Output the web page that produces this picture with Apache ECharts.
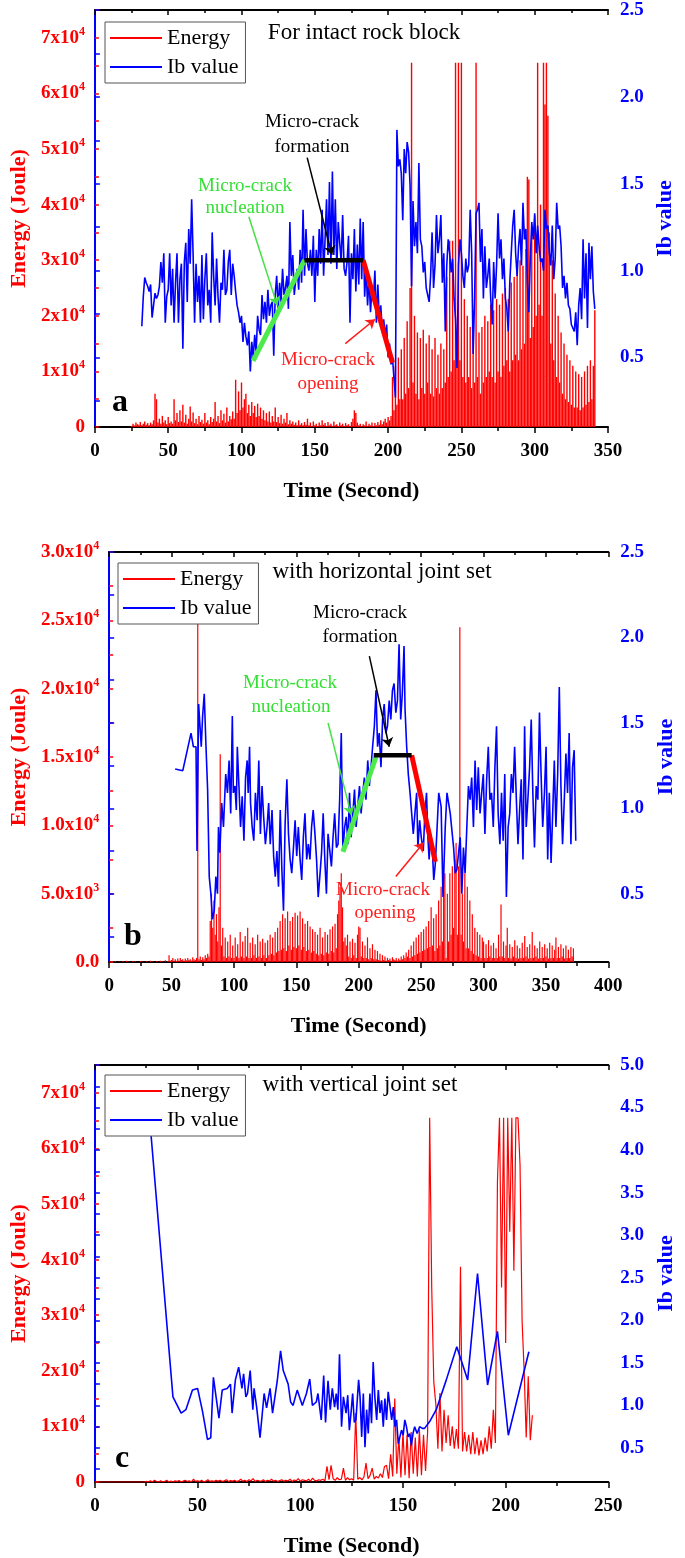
<!DOCTYPE html>
<html><head><meta charset="utf-8">
<script src="https://cdn.jsdelivr.net/npm/echarts@6/dist/echarts.min.js"></script>
<style>html,body{margin:0;padding:0;background:#fff}#c{width:685px;height:1558px}</style>
</head><body><div id="c"></div>
<script>
// ---------------- DATA ----------------
const timeTicksA = [0,50,100,150,200,250,300,350];
const timeTicksB = [0,50,100,150,200,250,300,350,400];
const timeTicksC = [0,50,100,150,200,250];
const energyLabelsAC = [0,10000,20000,30000,40000,50000,60000,70000];
const energyTicksAC = [0,5000,10000,15000,20000,25000,30000,35000,40000,45000,50000,55000,60000,65000,70000,75000];
const energyLabelsB = [0,5000,10000,15000,20000,25000,30000];
const energyTicksB = [0,2500,5000,7500,10000,12500,15000,17500,20000,22500,25000,27500,30000];
const ibLabelsAB = [0.5,1.0,1.5,2.0,2.5];
const ibTicksAB = [0.25,0.5,0.75,1.0,1.25,1.5,1.75,2.0,2.25,2.5];
const ibLabelsC = [0.5,1.0,1.5,2.0,2.5,3.0,3.5,4.0,4.5,5.0];
const ibTicksC = [0.25,0.5,0.75,1.0,1.25,1.5,1.75,2.0,2.25,2.5,2.75,3.0,3.25,3.5,3.75,4.0,4.25,4.5,4.75,5.0];

// Panel a: Ib value, one reading per second from t = 32 s
const ibA_t0 = 32;
const ibA = [
0.68,0.85,0.96,0.93,0.91,0.88,0.92,0.73,0.80,0.87,
0.84,0.86,0.91,1.05,0.93,1.10,0.70,0.85,0.89,1.10,
0.80,1.01,0.70,0.93,1.10,0.70,0.95,1.04,0.55,1.05,
1.16,0.82,1.24,1.04,1.41,1.09,0.70,1.04,0.82,0.97,
0.70,1.09,0.72,0.95,1.10,0.80,0.89,0.70,1.22,0.97,
0.80,1.07,0.85,0.70,0.93,0.89,1.12,0.86,0.89,1.05,
1.12,0.86,1.04,0.97,0.88,0.80,0.76,0.70,0.74,0.59,
0.70,0.62,0.57,0.65,0.42,0.59,0.50,0.63,0.53,0.74,
0.66,0.63,0.86,0.72,0.82,0.70,0.89,0.74,0.80,0.82,
0.51,0.86,0.97,0.78,0.93,0.82,1.01,0.86,0.90,0.97,
0.78,1.28,0.97,1.09,0.86,0.95,1.01,0.89,1.12,0.93,
1.35,0.97,1.24,1.04,1.00,1.12,0.97,1.20,0.82,1.12,
0.97,1.24,1.04,1.35,0.97,1.18,1.41,1.09,1.51,1.04,
1.57,1.09,1.41,1.01,1.28,1.16,1.05,1.32,1.01,0.97,
1.05,1.20,0.70,1.10,0.95,1.24,0.88,1.15,0.92,1.30,
0.95,1.28,0.85,1.02,0.80,0.96,0.76,0.90,0.84,1.00,
0.70,0.92,0.72,0.80,0.66,0.72,0.62,0.69,0.50,0.58,
0.46,0.50,0.38,0.27,1.81,1.60,1.64,1.56,1.29,1.70,
1.56,1.74,1.68,1.49,0.91,1.40,1.14,1.28,1.10,1.62,
1.18,1.14,0.99,1.05,0.90,0.90,0.82,0.97,1.22,0.90,
1.03,1.32,1.10,1.18,1.32,0.93,1.10,0.65,1.03,1.18,
1.10,0.99,1.07,0.84,0.72,0.44,1.03,1.18,1.10,0.97,
0.90,1.07,0.99,1.03,1.35,1.10,0.52,0.84,1.33,1.35,
1.39,1.05,1.24,0.84,1.14,0.90,0.97,1.07,0.84,0.69,
1.05,0.84,1.03,1.33,1.07,1.18,0.95,1.07,0.84,0.78,
0.65,0.93,1.10,1.26,1.35,1.10,0.97,1.14,1.24,1.03,
1.39,1.18,1.24,0.93,0.76,1.07,1.28,1.18,1.33,1.10,
1.26,1.14,1.05,1.07,1.00,1.35,1.24,1.26,1.10,1.03,
1.26,0.95,1.07,1.39,1.24,1.26,1.14,0.90,0.97,0.84,
0.93,0.80,0.78,0.69,0.67,0.65,0.76,0.57,0.80,0.90,
0.72,1.18,0.84,1.10,0.67,1.16,0.95,1.14,0.88,0.78];

// Panel a: energy (J), one reading per second from t = 25 s
const energyA_t0 = 25;
const energyA = [
200,600,300,800,500,400,900,300,600,1000,
400,700,300,800,500,1200,6000,5000,800,1500,
600,2000,800,1200,500,1800,700,1000,600,5000,
1200,2500,900,3000,1000,4000,800,2200,600,1500,
3700,1000,2600,700,1500,500,2000,900,1300,600,
2500,800,1200,500,1800,900,1500,4500,1000,2000,
700,3000,1200,2400,800,3500,1000,2000,1400,2800,
1500,8500,2500,6400,3000,8000,3500,5000,6000,2500,
4000,2000,4500,2500,3800,1800,4200,2000,3500,1500,
3000,1200,2500,1000,2800,800,2000,1000,3500,900,
1800,700,2200,600,1500,800,2500,500,1200,600,
1000,400,800,300,1200,400,700,300,900,400,
1500,300,800,200,1000,300,600,200,800,300,
1200,400,700,200,900,300,600,200,1000,300,
500,200,800,300,600,200,700,300,500,200,
900,1500,3000,2500,800,300,600,200,500,300,
1000,200,600,300,800,200,700,300,900,400,
1200,500,1000,1500,800,1800,1200,2000,9000,3000,
11000,4000,12500,5000,14000,5000,16000,6000,19000,7000,
25000,65500,8000,20000,6000,17000,5000,16000,7000,17500,
6000,15000,8000,16500,6000,14000,5500,16000,7000,13000,
6000,15000,7000,14000,8000,27000,9000,33500,10000,33500,
12000,65500,15000,65500,12000,65500,9000,23000,8000,20000,
9000,18000,7000,21000,8000,65500,9000,17000,6000,18000,
8000,20000,9000,19000,10000,22000,9000,21000,8000,23000,
10000,22000,9000,24000,11000,25000,12000,23000,10000,26000,
12000,27000,13000,28000,12000,30000,14000,29000,15000,32000,
45000,44500,16000,35000,18000,38000,20000,65500,22000,40000,
20000,65500,58000,65500,56000,35000,15000,30000,12000,24000,
9000,20000,8000,17000,6000,15000,5000,13000,4500,12000,
4000,11000,3500,10000,3500,9500,3000,9000,3500,10000,
4000,11000,4500,12000,5000,11000,21000];

// Panel b: Ib value readings [time, value]
const ibB = [
[52.9,1.23],[59,1.22],[65.6,1.44],[67.5,1.36],[69.6,1.36],[70.4,0.75],[71.7,1.61],[72.8,1.48],[73.8,1.36],[74.9,1.54],
[76.2,1.67],[77.5,1.38],[78.9,1.11],[80.2,0.60],[81.5,0.50],[82.8,0.35],[84.2,0.40],[85.5,0.60],[86.8,0.50],[87.6,0.89],
[88.7,0.74],[90.2,1.03],[91.6,0.89],[93.4,1.20],[94.8,1.09],[96.1,1.28],[97.4,0.97],[98.7,1.54],[99.5,1.09],[100.8,1.13],
[101.9,0.99],[102.7,1.36],[104,1.13],[105.3,0.89],[106.6,1.07],[108,0.81],[109.3,1.18],[110.6,1.28],[111.4,1.09],[112.5,1.36],
[113.3,1.03],[114.6,0.89],[115.9,0.81],[117.2,1.09],[118.6,0.93],[119.9,1.28],[121.2,0.85],[122.5,1.13],[123.8,0.95],[125.2,0.79],
[126.5,0.89],[127.8,1.03],[129.1,0.79],[130.5,0.99],[131.8,0.72],[133.1,0.60],[134.4,0.75],[135.7,0.54],[137.1,0.99],[138.4,0.64],
[139.7,0.40],[141,0.91],[142.4,1.17],[143.7,0.85],[145,0.70],[146.3,0.62],[147.7,0.77],[149,0.93],[150.3,0.72],[151.6,0.89],
[153,0.70],[154.3,0.58],[155.6,0.83],[156.9,0.97],[158.3,0.70],[159.6,0.79],[160.9,0.70],[162.2,0.89],[163.5,0.99],[164.9,0.85],
[166.2,0.70],[167.5,0.48],[168.8,0.60],[170.2,0.74],[171.5,0.97],[172.8,0.70],[174.1,0.50],[175.4,0.85],[176.8,0.75],[178.1,0.66],
[179.4,0.83],[180.7,0.97],[182.1,0.77],[183.4,0.79],[184.7,1.05],[186,1.44],[187.3,0.75],[188.7,0.89],[190,0.95],[191.3,0.79],
[192.6,1.09],[193.9,0.83],[195.3,0.97],[196.6,1.11],[197.9,0.89],[199.2,1.01],[200.6,1.13],[201.9,0.97],[203.2,1.09],[204.5,1.18],
[205.8,1.05],[207.2,1.28],[208.5,1.13],[209.8,1.24],[211.1,1.36],[212.5,1.48],[213.8,1.69],[215.1,1.36],[216.4,1.44],[217.8,1.24],
[219.1,1.52],[220.4,1.61],[221.7,1.44],[223,1.48],[224.4,1.63],[225.7,1.52],[227,1.69],[228.3,1.73],[229.7,1.56],[231,1.63],
[232.3,1.96],[233.6,1.52],[234.9,1.67],[236.3,1.95],[237.1,1.58],[238.4,1.36],[239.7,1.20],[241.1,1.09],[242.4,0.97],[243.7,0.85],
[245,0.97],[246.4,1.09],[247.4,0.77],[248.8,0.93],[250.1,0.83],[251.7,0.75],[253,0.97],[254.3,1.09],[255.4,0.83],[256.4,0.70],
[257.5,0.85],[258.8,0.79],[260.1,0.58],[261.4,0.68],[262.8,0.89],[264.1,1.09],[266,1.01],[267.5,0.48],[269.3,0.89],[270.7,1.09],
[273.3,0.97],[276,0.77],[277.3,0.62],[278.6,0.64],[280,0.74],[281.3,0.83],[282.6,0.50],[283.9,0.77],[285.2,0.62],[286.6,0.89],
[287.9,1.13],[289.2,1.05],[290.5,1.18],[291.9,0.89],[293.2,1.28],[294.5,0.99],[295.8,1.24],[297.2,0.97],[298.5,1.09],[299.8,1.20],
[301.1,0.85],[302.5,1.17],[303.8,1.36],[305.1,1.05],[306.4,1.09],[307.8,0.89],[309.1,1.24],[310.4,1.48],[311.7,0.97],[313.1,0.79],
[314.4,1.09],[315.7,0.81],[317,1.20],[318.3,0.48],[319.7,0.89],[321,0.97],[322.3,1.20],[323.6,1.09],[324.9,1.36],[326.3,1.05],
[327.6,0.79],[328.9,0.99],[330.2,1.17],[331.6,0.70],[332.9,1.48],[334.2,0.89],[335.5,1.05],[336.9,1.24],[338.2,1.52],[339.5,1.09],
[340.8,0.77],[342.2,1.13],[343.5,1.05],[344.8,1.56],[346.1,1.20],[347.4,0.89],[348.8,1.09],[350.1,1.36],[351.4,0.70],[352.7,1.09],
[354.1,0.68],[355.4,0.97],[356.7,1.28],[358,0.89],[359.4,1.20],[360.7,1.71],[362,1.13],[363.3,0.79],[364.7,1.05],[366,1.32],
[367.3,1.09],[368.6,1.44],[370,0.79],[371.3,1.24],[372.6,1.34],[373.9,0.81]];

// Panel b: energy (J), one reading per second from t = 0 s
const energyB_t0 = 0;
const energyB = [
0,0,50,0,0,80,0,0,30,0,
0,60,0,0,100,0,40,0,0,80,
0,50,0,0,0,70,0,30,0,0,
60,0,0,90,0,40,0,0,70,0,
0,100,0,50,0,120,0,80,500,100,
150,300,100,200,80,250,100,300,150,200,
100,250,120,300,150,200,100,350,200,150,
300,24800,200,400,150,350,200,500,300,600,
400,3000,5000,2500,4500,2000,3500,1500,4000,15200,
1200,2500,400,1800,300,1500,400,2000,300,1200,
300,1800,400,1300,300,2200,400,1500,300,1900,
400,2500,300,1400,300,1800,500,1300,300,2000,
400,1500,300,1700,500,1400,300,1600,500,2000,
600,1800,500,2200,700,2500,800,3000,900,3500,
1000,3200,800,3700,1200,3000,900,3300,1100,3600,
1000,3400,1200,3700,900,3200,1100,2800,800,3000,
900,2600,700,2400,800,2200,600,2000,500,2500,
600,1800,500,2200,700,2000,600,2400,800,2600,
700,2800,1000,3500,4500,5500,6500,4000,1500,1800,
1200,2000,400,1500,300,1700,500,1400,300,2000,
2600,2500,400,1500,300,1200,300,1800,200,1000,
300,1300,200,900,200,800,150,600,100,500,
150,400,100,300,150,250,100,350,200,150,
300,100,250,150,400,200,500,300,700,400,
900,300,1200,400,1500,500,1800,600,2000,700,
2200,800,2400,900,2600,1000,3000,1100,4000,1200,
3200,800,3500,1000,4500,1200,5500,1500,6200,6500,
300,5000,1500,6500,2000,7000,2500,7500,8700,2000,
7000,24500,2000,5000,1500,6500,1000,5500,1000,4500,
800,3500,600,2500,500,2200,400,2000,300,1800,
1500,300,1300,300,1600,400,1200,300,1400,300,
1000,300,2000,400,4200,400,1500,300,1200,2500,
300,1300,250,1100,400,1600,300,1200,250,1000,
300,1400,300,1900,400,1100,250,1300,300,2200,
300,1200,400,1000,250,1500,300,1100,300,1300,
400,1000,250,1400,300,1200,300,900,1800,300,
1100,300,1300,400,1000,250,1200,300,900,300,
1100,400,1000];

// Panel c: Ib value readings [time, value]
const ibC = [
[25.5,4.70],[27.4,4.16],[38,1.10],[42,0.91],[44.3,0.95],[47.5,1.18],[50,1.20],[52.4,0.93],[54.8,0.60],[56.4,0.62],
[57.7,1.33],[60.4,0.85],[62,1.18],[64.4,1.20],[66,1.25],[66.8,0.91],[68.4,1.30],[70,1.45],[71.6,1.20],[72.4,1.37],
[73.5,1.10],[74.3,1.14],[75.6,1.41],[76.9,0.95],[77.5,1.20],[78.8,0.97],[80.4,0.62],[82.4,1.14],[83.6,0.97],[85.3,1.20],
[86.5,0.91],[88.8,1.29],[90.4,1.64],[91.7,1.41],[94.1,1.25],[95.3,1.04],[96.5,1.00],[98.5,1.18],[101,1.00],[103,1.14],
[104.6,1.31],[105.9,1.00],[107.8,1.04],[108.6,1.14],[110.2,0.83],[111.4,1.35],[112.3,0.80],[113.5,1.29],[114.6,0.95],[115.6,1.20],
[116.7,0.98],[117.5,1.14],[118.3,0.95],[119.1,1.60],[120.1,0.75],[121,1.10],[122.3,0.91],[123.1,1.12],[123.9,0.71],[124.7,0.91],
[125.5,1.14],[126.3,0.80],[127.1,0.83],[128.4,1.30],[129.1,1.10],[129.9,0.63],[130.7,1.14],[131.5,0.51],[132.3,0.95],[133.1,0.67],
[133.9,1.14],[134.7,0.79],[135.5,1.51],[136.3,1.10],[137.2,0.83],[138,1.18],[138.8,0.91],[139.6,1.06],[140.4,0.75],[141.2,1.08],
[142,0.83],[142.8,1.16],[143.6,1.14],[144.5,0.83],[145.3,0.98],[146.1,0.75],[146.9,0.83],[147.7,0.55],[148.5,0.63],[149.3,0.71],
[150.1,0.65],[150.9,0.83],[151.7,0.75],[152.5,0.63],[153.3,0.67],[154.1,0.53],[154.9,0.67],[155.7,0.75],[156.9,0.67],[158.1,0.75],
[159.4,0.73],[160.5,0.73],[163,0.81],[166.2,0.95],[171.1,1.30],[176.2,1.69],[181.5,1.30],[186.3,2.55],[191.2,1.24],[196,1.87],
[201.3,0.65],[211.3,1.63]];

// Panel c: energy (J), one reading per second from t = 0 s
const energyC_t0 = 0;
const energyC = [
0,0,0,0,0,0,0,0,0,0,
0,0,0,0,0,0,0,0,0,0,
0,0,0,0,0,100,0,200,0,300,
100,0,200,0,100,300,0,150,0,200,
100,250,0,150,300,100,200,0,500,100,
200,100,300,0,150,400,100,200,100,300,
150,300,100,200,400,100,250,150,300,100,
200,500,150,300,100,400,200,600,100,300,
200,150,400,100,300,200,500,150,300,100,
250,400,150,300,200,500,100,350,200,600,
150,400,300,200,500,150,700,300,200,400,
300,500,200,2800,400,3000,600,300,800,400,
500,2500,300,800,400,600,300,12400,500,800,
400,900,3400,600,1200,2500,500,1000,700,1500,
800,2800,3000,600,5000,1000,15000,1500,8000,800,
9000,1200,8500,700,9000,1500,8000,1000,9500,1200,
8500,2000,9000,65500,35000,18000,14000,6000,16000,5500,
13000,7000,12000,6500,10000,6000,9500,6000,38700,5500,
9000,5500,8500,5000,9000,5000,8000,4800,7500,5000,
8000,5500,10000,6000,13000,7000,54000,65500,35000,65500,
25000,65500,45000,65500,38000,65500,65500,57000,29000,20000,
8000,19000,7500,12000];

// Annotation strokes, in (time, Ib value) coordinates
const nucleationA = [[107.9,0.48],[143,1.06]];
const formationA  = [[143,1.06],[183,1.06]];
const openingA    = [[183,1.06],[203,0.47]];
const arrowFormA  = [[144.8,1.65],[161.7,1.09]];
const arrowNuclA  = [[105,1.31],[124.4,0.80]];
const arrowOpenA  = [[170.8,0.58],[191.1,0.72]];
const nucleationB = [[187.3,0.745],[213.8,1.30]];
const formationB  = [[212,1.31],[242.4,1.31]];
const openingB    = [[242.4,1.31],[261.4,0.687]];
const arrowFormB  = [[208.5,1.89],[224.4,1.36]];
const arrowNuclB  = [[175.4,1.50],[194,0.96]];
const arrowOpenB  = [[229.7,0.60],[252.1,0.80]];

// ---------------- CHART ----------------
const FONT = '"Liberation Serif","Times New Roman",serif';
const RED = '#ff0000', BLUE = '#0000ff', GREEN = '#4cea4c', TGREEN = '#33e033';

const seq = (t0, arr) => arr.map((v, i) => [t0 + i, v]);

const grids = [
  {left: 93, top: 10, width: 515, height: 417},
  {left: 107, top: 552, width: 504, height: 410},
  {left: 93, top: 1065, width: 516, height: 417}
];
const xMax = [350, 400, 250];
const xTicks = [timeTicksA, timeTicksB, timeTicksC];
const eMax = [75000, 30000, 75000];
const eLabels = [energyLabelsAC, energyLabelsB, energyLabelsAC];
const eTicks = [energyTicksAC, energyTicksB, energyTicksAC];
const ibMax = [2.5, 2.5, 5.0];
const ibLabels = [ibLabelsAB, ibLabelsAB, ibLabelsC];
const ibTicks = [ibTicksAB, ibTicksAB, ibTicksC];
const eNameGap = [64, 78, 64];

const richE = {
  b: {fontSize: 19, fontWeight: 'bold', fontFamily: FONT, color: RED, lineHeight: 24},
  s: {fontSize: 12, fontWeight: 'bold', fontFamily: FONT, color: RED, lineHeight: 12, verticalAlign: 'top'}
};
function fmtAC(v) { return v === 0 ? '{b|0}' : '{b|' + (v / 10000) + 'x10}{s|4}'; }
function fmtB(v) {
  if (v === 0) return '{b|0.0}';
  if (v < 10000) return '{b|' + (v / 1000).toFixed(1) + 'x10}{s|3}';
  return '{b|' + (v / 10000).toFixed(1) + 'x10}{s|4}';
}

const xAxis = [], yAxis = [], series = [];
for (let i = 0; i < 3; i++) {
  xAxis.push({
    type: 'value', gridIndex: i, min: 0, max: xMax[i], interval: 50, position: 'bottom',
    axisLine: {lineStyle: {color: '#000', width: 2}},
    axisTick: {length: 6, lineStyle: {color: '#000', width: 1.5}},
    minorTick: {show: true, splitNumber: 2, length: 4, lineStyle: {color: '#000', width: 1.5}},
    axisLabel: {margin: 15, fontSize: 19, fontWeight: 'bold', fontFamily: FONT, color: '#000', customValues: xTicks[i]},
    splitLine: {show: false},
    name: 'Time (Second)', nameLocation: 'middle', nameGap: 53,
    nameTextStyle: {fontSize: 22, fontWeight: 'bold', fontFamily: FONT, color: '#000'}
  });
  xAxis.push({
    type: 'value', gridIndex: i, min: 0, max: xMax[i], interval: 50, position: 'top',
    axisLine: {lineStyle: {color: '#000', width: 2}},
    axisTick: {inside: true, length: 5, lineStyle: {color: '#000', width: 1.5}},
    minorTick: {show: true, splitNumber: 2, length: 3, lineStyle: {color: '#000', width: 1.5}},
    axisLabel: {show: false}, splitLine: {show: false}
  });
  yAxis.push({
    type: 'value', gridIndex: i, position: 'left', min: 0, max: eMax[i],
    axisLine: {show: true, lineStyle: {color: RED, width: 1.5}},
    axisTick: {show: true, inside: true, length: 4, customValues: eTicks[i], lineStyle: {color: RED, width: 1.5}},
    axisLabel: {margin: 10, customValues: eLabels[i], formatter: i === 1 ? fmtB : fmtAC, rich: richE, color: RED},
    splitLine: {show: false},
    name: 'Energy (Joule)', nameLocation: 'middle', nameGap: eNameGap[i], nameRotate: 90,
    nameTextStyle: {fontSize: 22, fontWeight: 'bold', fontFamily: FONT, color: RED}
  });
  yAxis.push({
    type: 'value', gridIndex: i, position: 'right', min: 0.1, max: ibMax[i],
    axisLine: {show: true, lineStyle: {color: BLUE, width: 2}},
    axisTick: {show: true, length: 5, customValues: ibTicks[i], lineStyle: {color: BLUE, width: 1.5}},
    axisLabel: {margin: 12, customValues: ibLabels[i], formatter: v => v.toFixed(1),
      fontSize: 19, fontWeight: 'bold', fontFamily: FONT, color: BLUE},
    splitLine: {show: false},
    name: 'Ib value', nameLocation: 'middle', nameGap: 30, nameRotate: 90,
    nameTextStyle: {fontSize: 22, fontWeight: 'bold', fontFamily: FONT, color: BLUE}
  });
}

const eData = [seq(energyA_t0, energyA), seq(energyB_t0, energyB), seq(energyC_t0, energyC)];
const ibData = [seq(ibA_t0, ibA), ibB, ibC];
const eBarWidth = [1.4, 1.2, 0];
for (let i = 0; i < 3; i++) {
  if (i < 2) {
    series.push({
      name: 'Energy', type: 'bar', xAxisIndex: 2 * i, yAxisIndex: 2 * i, data: eData[i],
      barWidth: eBarWidth[i], itemStyle: {color: RED}, z: 2, emphasis: {disabled: true}, silent: true
    });
  } else {
    series.push({
      name: 'Energy', type: 'line', xAxisIndex: 2 * i, yAxisIndex: 2 * i, data: eData[i],
      symbol: 'none', showSymbol: false, lineStyle: {color: RED, width: 1.2}, itemStyle: {color: RED},
      z: 2, emphasis: {disabled: true}
    });
  }
  series.push({
    name: 'Ib value', type: 'line', xAxisIndex: 2 * i, yAxisIndex: 2 * i + 1, data: ibData[i],
    symbol: 'none', showSymbol: false, lineStyle: {color: BLUE, width: 1.6}, itemStyle: {color: BLUE},
    z: 3, emphasis: {disabled: true}
  });
}

function stroke(i, data, color, width) {
  return {name: '_a', type: 'line', xAxisIndex: 2 * i, yAxisIndex: 2 * i + 1, data: data,
    symbol: 'none', lineStyle: {color: color, width: width}, z: 6, silent: true, emphasis: {disabled: true}};
}
function arrow(seg, color) {
  return [{coord: seg[0], lineStyle: {color: color, width: 1.5, type: 'solid'}}, {coord: seg[1]}];
}
const annoPanels = [
  {i: 0, nuc: nucleationA, form: formationA, open: openingA, aF: arrowFormA, aN: arrowNuclA, aO: arrowOpenA},
  {i: 1, nuc: nucleationB, form: formationB, open: openingB, aF: arrowFormB, aN: arrowNuclB, aO: arrowOpenB}
];
annoPanels.forEach(p => {
  series.push(stroke(p.i, p.nuc, GREEN, 5));
  series.push(stroke(p.i, p.open, RED, 5));
  const f = stroke(p.i, p.form, '#000', 4.5);
  f.markLine = {silent: true, symbol: ['none', 'arrow'], symbolSize: 9, label: {show: false},
    animation: false, data: [arrow(p.aF, '#000'), arrow(p.aN, '#44e044'), arrow(p.aO, '#ff1a1a')]};
  series.push(f);
});

const legendBase = {
  data: [{name: 'Energy', icon: 'rect', itemStyle: {color: RED}}, {name: 'Ib value', icon: 'rect', itemStyle: {color: BLUE}}],
  orient: 'vertical', backgroundColor: '#fff',
  borderColor: '#555', borderWidth: 1, padding: [5, 7, 5, 5], itemGap: 7,
  itemWidth: 52, itemHeight: 2, selectedMode: false,
  textStyle: {fontSize: 22, fontFamily: FONT, color: '#000'}, z: 10
};
const legend = [
  Object.assign({}, legendBase, {left: 105, top: 22}),
  Object.assign({}, legendBase, {left: 118, top: 563}),
  Object.assign({}, legendBase, {left: 105, top: 1075})
];

function txt(x, y, s, size, color, weight) {
  return {type: 'text', x: x, y: y, z: 20, silent: true,
    style: {text: s, fill: color, textAlign: 'center', textVerticalAlign: 'middle',
      font: (weight || 'normal') + ' ' + size + 'px ' + FONT}};
}
const graphic = [
  txt(364, 33, 'For intact rock block', 23, '#000'),
  txt(312, 122, 'Micro-crack', 19, '#000'), txt(312, 147, 'formation', 19, '#000'),
  txt(245, 186, 'Micro-crack', 19, TGREEN), txt(245, 208, 'nucleation', 19, TGREEN),
  txt(328, 360, 'Micro-crack', 19, '#ff2020'), txt(328, 384, 'opening', 19, '#ff2020'),
  txt(120, 403, 'a', 32, '#000', 'bold'),
  txt(382, 572, 'with horizontal joint set', 23, '#000'),
  txt(360, 613, 'Micro-crack', 19, '#000'), txt(360, 637, 'formation', 19, '#000'),
  txt(290, 683, 'Micro-crack', 19, TGREEN), txt(291, 707, 'nucleation', 19, TGREEN),
  txt(383, 890, 'Micro-crack', 19, '#ff2020'), txt(385, 913, 'opening', 19, '#ff2020'),
  txt(133, 937, 'b', 32, '#000', 'bold'),
  txt(360, 1085, 'with vertical joint set', 23, '#000'),
  txt(122, 1459, 'c', 32, '#000', 'bold')
];

const chart = echarts.init(document.getElementById('c'), null, {renderer: 'canvas'});
chart.setOption({
  animation: false, backgroundColor: '#fff',
  textStyle: {fontFamily: FONT},
  grid: grids, xAxis: xAxis, yAxis: yAxis, series: series, legend: legend, graphic: graphic
});
</script></body></html>
